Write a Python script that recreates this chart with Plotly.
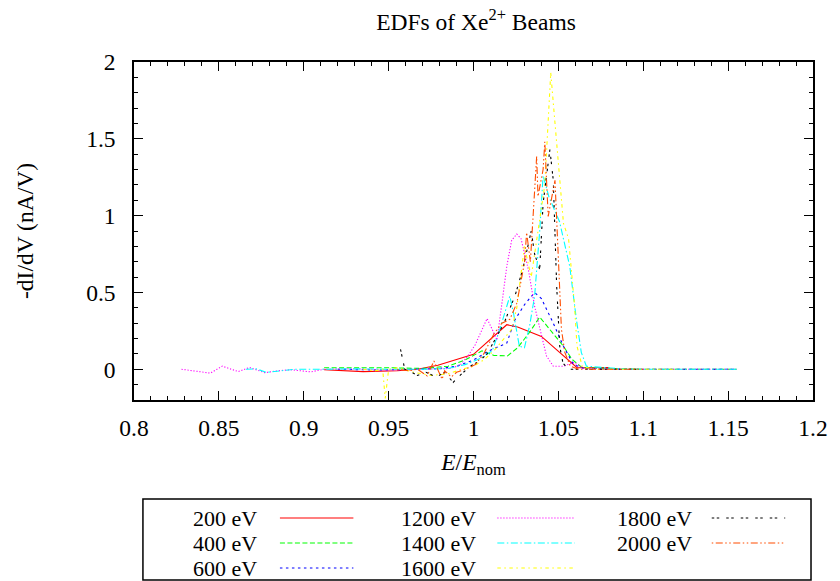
import plotly.graph_objects as go

# Energy distribution functions of Xe2+ beams, normalised energy E/E_nom
labels = ["200 eV", "400 eV", "600 eV", "1200 eV", "1400 eV", "1600 eV", "1800 eV", "2000 eV"]

x_200 = [0.912, 0.935, 0.955, 0.967, 0.979, 1.000, 1.0196, 1.026, 1.040, 1.056, 1.061, 1.080]
y_200 = [-0.003, -0.015, -0.01, 0.0, 0.026, 0.097, 0.29, 0.275, 0.214, 0.055, 0.01, 0.012]

x_400 = [0.912, 0.93, 0.95, 0.97, 0.985, 0.995, 1.005, 1.012, 1.02, 1.026, 1.033, 1.039,
         1.045, 1.053, 1.058, 1.064, 1.08, 1.1, 1.155]
y_400 = [0.01, 0.012, 0.01, 0.005, 0.02, 0.06, 0.12, 0.09, 0.087, 0.14, 0.24, 0.34,
         0.26, 0.15, 0.065, 0.01, 0.005, 0.0, 0.0]

x_600 = [0.92, 0.945, 0.965, 0.98, 0.99, 1.0, 1.009, 1.0196, 1.0243, 1.03, 1.036, 1.04,
         1.047, 1.053, 1.059, 1.065, 1.09, 1.12, 1.155]
y_600 = [0.0, -0.005, 0.0, 0.005, 0.02, 0.06, 0.12, 0.17, 0.32, 0.42, 0.5, 0.46,
         0.3, 0.15, 0.03, 0.005, 0.0, 0.0, 0.0]

x_1200 = [0.828, 0.836, 0.845, 0.852, 0.8615, 0.868, 0.877, 0.885, 0.8925, 0.904, 0.912,
          0.93, 0.95, 0.97, 0.986, 0.992, 0.997, 1.001, 1.006, 1.008, 1.011, 1.0138,
          1.017, 1.0196, 1.0225, 1.0255, 1.028, 1.0323, 1.036, 1.040, 1.043, 1.047,
          1.053, 1.059, 1.065, 1.09, 1.12, 1.155]
y_1200 = [0.0, -0.01, -0.025, 0.02, -0.015, 0.012, -0.022, -0.01, -0.003, -0.017, 0.0,
          0.003, -0.005, 0.0, 0.005, 0.025, 0.09, 0.16, 0.28, 0.33, 0.26, 0.19,
          0.45, 0.67, 0.84, 0.88, 0.85, 0.65, 0.41, 0.216, 0.086, 0.02,
          0.02, 0.044, 0.005, 0.0, 0.0, 0.0]

x_1400 = [0.866, 0.872, 0.878, 0.885, 0.895, 0.91, 0.93, 0.95, 0.97, 0.985, 0.995, 1.004,
          1.011, 1.0155, 1.0214, 1.0235, 1.027, 1.030, 1.033, 1.036, 1.039, 1.041,
          1.0445, 1.0507, 1.0567, 1.0606, 1.0635, 1.0665, 1.09, 1.12, 1.155]
y_1400 = [0.0, 0.003, -0.02, -0.01, 0.0, 0.0, 0.003, 0.0, 0.0, 0.005, 0.03, 0.07,
          0.12, 0.26, 0.476, 0.37, 0.15, 0.14, 0.28, 0.476, 0.9, 1.26,
          1.12, 0.96, 0.67, 0.325, 0.11, 0.02, 0.0, 0.0, 0.0]

x_1600 = [0.935, 0.942, 0.9465, 0.948, 0.950, 0.955, 0.965, 0.975, 0.985, 0.993, 1.0,
          1.006, 1.012, 1.018, 1.0225, 1.0255, 1.030, 1.034, 1.038, 1.042, 1.0455,
          1.053, 1.056, 1.0577, 1.0594, 1.061, 1.064, 1.07, 1.09, 1.12]
y_1600 = [0.0, -0.01, 0.0, -0.19, 0.0, 0.01, -0.02, -0.04, -0.03, 0.0, 0.02,
          0.06, 0.12, 0.2, 0.26, 0.4, 0.8, 0.6, 0.9, 1.2, 1.93,
          0.95, 0.85, 0.65, 0.43, 0.15, 0.02, 0.0, 0.0, 0.0]

x_1800 = [0.957, 0.9595, 0.962, 0.967, 0.972, 0.978, 0.983, 0.988, 0.993, 0.998, 1.003,
          1.008, 1.013, 1.018, 1.0245, 1.029, 1.034, 1.036, 1.039, 1.041, 1.045, 1.047,
          1.049, 1.0508, 1.0527, 1.056, 1.06, 1.08, 1.1]
y_1800 = [0.13, 0.0, -0.01, -0.04, -0.02, -0.05, -0.02, -0.085, -0.03, 0.02, 0.05,
          0.1, 0.2, 0.3, 0.48, 0.65, 0.9, 0.75, 0.65, 1.08, 1.43, 1.23,
          0.54, 0.15, 0.04, 0.0, 0.0, 0.0, 0.0]

x_2000 = [0.955, 0.962, 0.967, 0.9727, 0.9767, 0.9815, 0.983, 0.987, 0.990, 0.995, 1.001,
          1.006, 1.012, 1.0167, 1.0214, 1.0255, 1.030, 1.0313, 1.0335, 1.0372, 1.038,
          1.041, 1.042, 1.044, 1.048, 1.050, 1.0518, 1.0538, 1.057, 1.062, 1.08, 1.1]
y_2000 = [0.0, -0.01, 0.0, -0.043, 0.054, -0.065, -0.01, -0.05, -0.02, 0.0, 0.03,
          0.1, 0.23, 0.3, 0.325, 0.43, 0.69, 0.89, 0.7, 1.385, 1.125,
          1.3, 1.48, 0.995, 1.23, 0.69, 0.26, 0.11, 0.02, 0.0, 0.0, 0.0]

xs = [x_200, x_400, x_600, x_1200, x_1400, x_1600, x_1800, x_2000]
ys = [y_200, y_400, y_600, y_1200, y_1400, y_1600, y_1800, y_2000]

# gnuplot postscript line types 1..8
colors = ["#ff0000", "#00ff00", "#0000ff", "#ff00ff", "#00ffff", "#ffff00", "#000000", "#ff4d00"]
dashes = ["solid", "5px,2.5px", "2.5px,3.5px", "1.2px,1.8px", "7px,2.5px,1.5px,2.5px",
          "3.5px,3.5px,1.5px,3.5px", "2.5px,2.5px,2.5px,7px",
          "1.5px,2.5px,7px,2.5px,1.5px,2.5px"]

FONT = "Liberation Serif"
FS = 23.5
KEY_FS = 22
W, H = 840, 581
L, R, T, B = 134, 818, 62, 400  # plot area in pixels

fig = go.Figure()
for x, y, c, d, name in zip(xs, ys, colors, dashes, labels):
    fig.add_trace(go.Scatter(x=x, y=y, mode="lines", name=name,
                             line=dict(color=c, width=1.1, dash=d), showlegend=False))

def px(xp):
    return (xp - L) / (R - L)

def py(yp):
    return (B - yp) / (B - T)

# key box below the plot: text on the left of each line sample
shapes = [dict(type="rect", xref="paper", yref="paper", x0=px(143), x1=px(816),
               y0=py(580), y1=py(499), line=dict(color="black", width=1.5))]
annotations = []
cols = [(260, 281, 355), (481, 500, 578), (698, 716, 790)]
rows = [518, 543, 568]
for i, name in enumerate(labels):
    ci, ri = i // 3, i % 3
    tx, sx0, sx1 = cols[ci]
    yy = rows[ri]
    annotations.append(dict(text=name, x=px(tx), y=py(yy), xref="paper", yref="paper",
                            xanchor="right", yanchor="middle", showarrow=False,
                            font=dict(family=FONT, size=KEY_FS, color="black")))
    shapes.append(dict(type="line", xref="paper", yref="paper", x0=px(sx0), x1=px(sx1),
                       y0=py(yy), y1=py(yy),
                       line=dict(color=colors[i], width=1.1, dash=dashes[i])))

axis_common = dict(showline=True, linecolor="black", linewidth=1.5, mirror="ticks",
                   ticks="inside", ticklen=9, tickwidth=1, tickcolor="black",
                   showgrid=False, zeroline=False,
                   tickfont=dict(family=FONT, size=FS, color="black"))

fig.update_layout(
    width=W, height=H,
    margin=dict(l=L, r=W - R, t=T, b=H - B),
    paper_bgcolor="white", plot_bgcolor="white",
    font=dict(family=FONT, size=FS, color="black"),
    title=dict(text="EDFs of Xe<sup>2+</sup> Beams", x=(L + R) / 2 / W, xanchor="center",
               y=1 - 22 / H, yanchor="middle",
               font=dict(family=FONT, size=FS, color="black")),
    xaxis=dict(range=[0.8, 1.2], dtick=0.05, tick0=0.8,
               minor=dict(ticks="inside", ticklen=4.5, dtick=0.01, tickcolor="black",
                          showgrid=False),
               title=dict(text="<i>E</i>/<i>E</i><sub>nom</sub>", standoff=14,
                          font=dict(family=FONT, size=FS, color="black")),
               ticklabelstandoff=6, **axis_common),
    yaxis=dict(range=[-0.2, 2], dtick=0.5, tick0=0,
               minor=dict(ticks="inside", ticklen=4.5, dtick=0.1, tickcolor="black",
                          showgrid=False),
               title=dict(text="-dI/dV (nA/V)", standoff=46,
                          font=dict(family=FONT, size=FS, color="black")),
               ticklabelstandoff=12, **axis_common),
    shapes=shapes,
    annotations=annotations,
)

fig.write_html("out.html")
